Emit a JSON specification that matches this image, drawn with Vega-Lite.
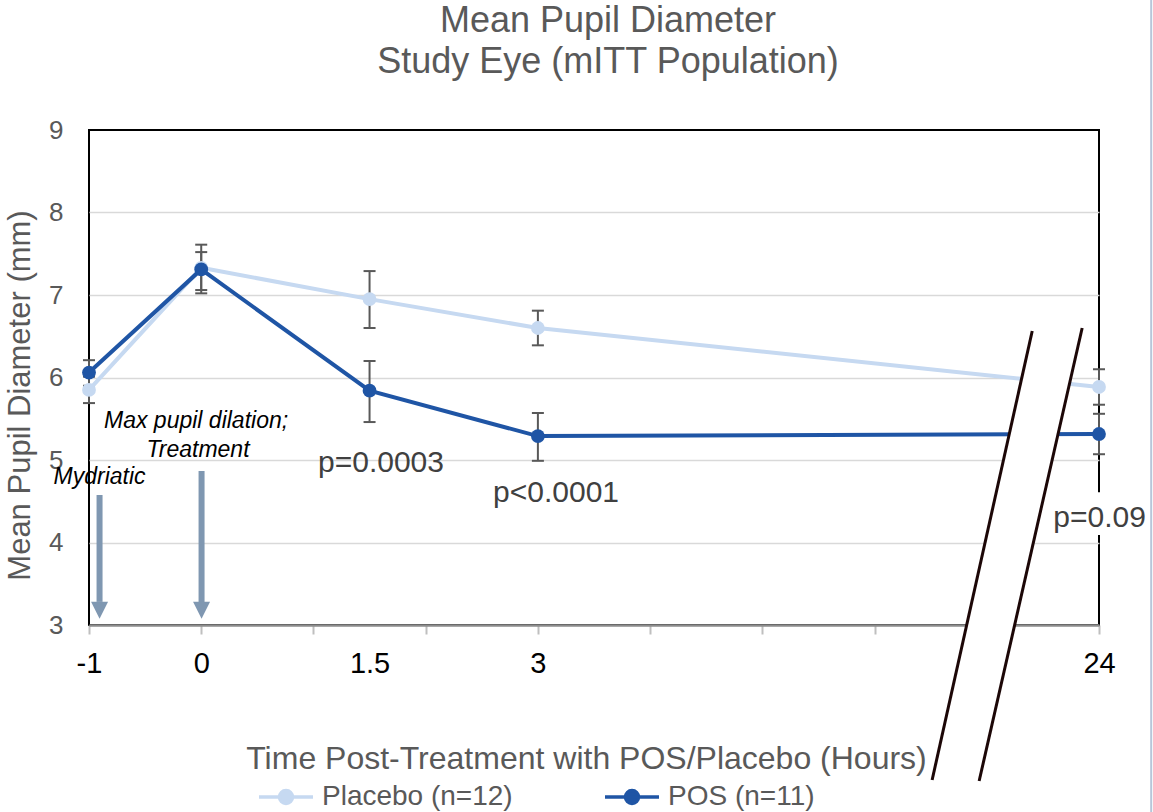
{
  "$schema": "https://vega.github.io/schema/vega-lite/v6.json",
  "width": 1010,
  "height": 495,
  "autosize": {"type": "none"},
  "padding": {"left": 89, "top": 130, "right": 54, "bottom": 187},
  "background": "white",
  "config": {
    "font": "Liberation Sans",
    "view": {"stroke": "black", "strokeWidth": 2}
  },
  "title": {
    "text": ["Mean Pupil Diameter", "Study Eye (mITT Population)"],
    "fontSize": 36,
    "fontWeight": "normal",
    "color": "#595959",
    "lineHeight": 41,
    "anchor": "middle",
    "frame": "group",
    "dx": 14,
    "offset": -82
  },
  "datasets": {
    "series": [
      {"series": "Placebo (n=12)", "x": 0, "mean": 5.85, "lo": 5.69, "hi": 6.01},
      {"series": "Placebo (n=12)", "x": 1, "mean": 7.33, "lo": 7.06, "hi": 7.61},
      {"series": "Placebo (n=12)", "x": 2.5, "mean": 6.95, "lo": 6.60, "hi": 7.29},
      {"series": "Placebo (n=12)", "x": 4, "mean": 6.60, "lo": 6.39, "hi": 6.81},
      {"series": "Placebo (n=12)", "x": 9, "mean": 5.885, "lo": 5.67, "hi": 6.10},
      {"series": "POS (n=11)", "x": 0, "mean": 6.06, "lo": 5.90, "hi": 6.21},
      {"series": "POS (n=11)", "x": 1, "mean": 7.31, "lo": 7.02, "hi": 7.52},
      {"series": "POS (n=11)", "x": 2.5, "mean": 5.84, "lo": 5.46, "hi": 6.20},
      {"series": "POS (n=11)", "x": 4, "mean": 5.29, "lo": 4.99, "hi": 5.57},
      {"series": "POS (n=11)", "x": 9, "mean": 5.315, "lo": 5.07, "hi": 5.56}
    ],
    "notesItalic": [
      {"label": "Mydriatic", "x": 0.094, "y": 4.709},
      {"label": "Max pupil dilation;", "x": 0.954, "y": 5.388},
      {"label": "Treatment", "x": 0.971, "y": 5.036}
    ],
    "notesP": [
      {"label": "p=0.0003", "x": 2.602, "y": 4.855},
      {"label": "p<0.0001", "x": 4.162, "y": 4.49},
      {"label": "p=0.09", "x": 9.005, "y": 4.19}
    ],
    "arrows": [
      {"x": 0.094, "top": 4.576, "shaft": 3.28, "head": 3.18},
      {"x": 1.003, "top": 4.867, "shaft": 3.28, "head": 3.18}
    ],
    "breakBand": [
      {"y": 6.56, "xl": 8.405, "xr": 8.843},
      {"y": 1.12, "xl": 7.513, "xr": 7.934}
    ],
    "breakLines": [
      {"x1": 8.405, "y1": 6.564, "x2": 7.513, "y2": 1.121},
      {"x1": 8.850, "y1": 6.60, "x2": 7.932, "y2": 1.109}
    ],
    "pBox": [
      {"x1": 8.54, "x2": 9.46, "y1": 4.61, "y2": 4.09}
    ],
    "edge": [
      {"x": 9.465, "y1": 10.58, "y2": 0.73}
    ]
  },
  "layer": [
    {
      "data": {"name": "arrows"},
      "mark": {"type": "rule", "color": "#7f97b1", "strokeWidth": 6},
      "encoding": {
        "x": {"field": "x", "type": "quantitative", "scale": {"domain": [0, 9], "nice": false, "zero": false}},
        "y": {"field": "top", "type": "quantitative", "scale": {"domain": [3, 9], "nice": false, "zero": false}},
        "y2": {"field": "shaft"}
      }
    },
    {
      "data": {"name": "arrows"},
      "mark": {"type": "point", "shape": "M-1,-1L1,-1L0,1Z", "filled": true, "size": 289, "color": "#7f97b1", "opacity": 1},
      "encoding": {
        "x": {"field": "x", "type": "quantitative", "scale": {"domain": [0, 9], "nice": false, "zero": false}},
        "y": {"field": "head", "type": "quantitative", "scale": {"domain": [3, 9], "nice": false, "zero": false}}
      }
    },
    {
      "data": {"name": "series"},
      "mark": {"type": "rule", "strokeWidth": 2, "color": "#595959"},
      "encoding": {
        "x": {"field": "x", "type": "quantitative", "scale": {"domain": [0, 9], "nice": false, "zero": false}},
        "y": {"field": "lo", "type": "quantitative", "scale": {"domain": [3, 9], "nice": false, "zero": false}},
        "y2": {"field": "hi"}
      }
    },
    {
      "data": {"name": "series"},
      "mark": {"type": "point", "shape": "M-1,0L1,0", "filled": false, "size": 144, "strokeWidth": 2, "color": "#595959", "opacity": 1},
      "encoding": {
        "x": {"field": "x", "type": "quantitative", "scale": {"domain": [0, 9], "nice": false, "zero": false}},
        "y": {"field": "lo", "type": "quantitative", "scale": {"domain": [3, 9], "nice": false, "zero": false}}
      }
    },
    {
      "data": {"name": "series"},
      "mark": {"type": "point", "shape": "M-1,0L1,0", "filled": false, "size": 144, "strokeWidth": 2, "color": "#595959", "opacity": 1},
      "encoding": {
        "x": {"field": "x", "type": "quantitative", "scale": {"domain": [0, 9], "nice": false, "zero": false}},
        "y": {"field": "hi", "type": "quantitative", "scale": {"domain": [3, 9], "nice": false, "zero": false}}
      }
    },
    {
      "data": {"name": "series"},
      "mark": {"type": "line", "strokeWidth": 4, "point": {"filled": true, "size": 190, "opacity": 1}},
      "encoding": {
        "x": {
          "field": "x", "type": "quantitative",
          "scale": {"domain": [0, 9], "nice": false, "zero": false},
          "axis": {
            "values": [0, 1, 2, 2.5, 3, 4, 5, 6, 7, 8, 9],
            "labelExpr": "datum.value == 0 ? '-1' : datum.value == 1 ? '0' : datum.value == 2.5 ? '1.5' : datum.value == 4 ? '3' : datum.value == 9 ? '24' : ''",
            "labelFontSize": 29,
            "labelColor": "black",
            "labelPadding": 15,
            "labelFlush": false,
            "labelOverlap": false,
            "tickColor": "#bfbfbf",
            "tickWidth": 2,
            "tickSize": 9,
            "tickOpacity": {"condition": {"test": "datum.value == 2.5", "value": 0}, "value": 1},
            "domainColor": "#8c8c8c",
            "domainWidth": 2.5,
            "grid": false,
            "title": "Time Post-Treatment with POS/Placebo (Hours)",
            "titleFontSize": 32,
            "titleFontWeight": "normal",
            "titleColor": "#595959",
            "titleX": 497,
            "titleY": 143,
            "titleBaseline": "alphabetic",
            "titleAlign": "center"
          }
        },
        "y": {
          "field": "mean", "type": "quantitative",
          "scale": {"domain": [3, 9], "nice": false, "zero": false},
          "axis": {
            "values": [3, 4, 5, 6, 7, 8, 9],
            "format": "d",
            "labelFontSize": 26,
            "labelColor": "#595959",
            "labelPadding": 26,
            "ticks": false,
            "tickSize": 0,
            "domain": false,
            "labelFlush": false,
            "grid": true,
            "gridColor": {"condition": {"test": "datum.value == 3 || datum.value == 9", "value": "transparent"}, "value": "#d9d9d9"},
            "gridWidth": 1.5,
            "title": "Mean Pupil Diameter (mm)",
            "titleFontSize": 31,
            "titleFontWeight": "normal",
            "titleColor": "#595959",
            "titleX": -53,
            "titleY": 265,
            "titleAlign": "center",
            "titleBaseline": "bottom"
          }
        },
        "color": {
          "field": "series", "type": "nominal",
          "scale": {"domain": ["Placebo (n=12)", "POS (n=11)"], "range": ["#c6d9f1", "#1f55a5"]},
          "legend": {
            "orient": "none",
            "legendX": 168,
            "legendY": 638,
            "direction": "horizontal",
            "title": null,
            "labelFontSize": 28,
            "labelColor": "#595959",
            "labelOffset": 7,
            "labelLimit": 500,
            "columnPadding": 85,
            "symbolType": "M-1,0L1,0M-0.24,0A0.24,0.24,0,1,1,0.24,0A0.24,0.24,0,1,1,-0.24,0Z",
            "symbolSize": 2916,
            "symbolStrokeWidth": 3.5,
            "encode": {
              "symbols": {
                "update": {
                  "fill": {"scale": "color", "field": "value"},
                  "stroke": {"scale": "color", "field": "value"},
                  "opacity": {"value": 1}
                }
              }
            }
          }
        }
      }
    },
    {
      "data": {"name": "notesItalic"},
      "mark": {"type": "text", "fontStyle": "italic", "fontSize": 23, "color": "black", "baseline": "alphabetic", "align": "center"},
      "encoding": {
        "x": {"field": "x", "type": "quantitative", "scale": {"domain": [0, 9], "nice": false, "zero": false}},
        "y": {"field": "y", "type": "quantitative", "scale": {"domain": [3, 9], "nice": false, "zero": false}},
        "text": {"field": "label"}
      }
    },
    {
      "data": {"name": "breakBand"},
      "mark": {"type": "area", "orient": "horizontal", "color": "white", "opacity": 1},
      "encoding": {
        "y": {"field": "y", "type": "quantitative", "scale": {"domain": [3, 9], "nice": false, "zero": false}},
        "x": {"field": "xl", "type": "quantitative", "scale": {"domain": [0, 9], "nice": false, "zero": false}},
        "x2": {"field": "xr"}
      }
    },
    {
      "data": {"name": "breakLines"},
      "mark": {"type": "rule", "color": "#1c0707", "strokeWidth": 3},
      "encoding": {
        "x": {"field": "x1", "type": "quantitative", "scale": {"domain": [0, 9], "nice": false, "zero": false}},
        "x2": {"field": "x2"},
        "y": {"field": "y1", "type": "quantitative", "scale": {"domain": [3, 9], "nice": false, "zero": false}},
        "y2": {"field": "y2"}
      }
    },
    {
      "data": {"name": "pBox"},
      "mark": {"type": "rect", "color": "white", "opacity": 1},
      "encoding": {
        "x": {"field": "x1", "type": "quantitative", "scale": {"domain": [0, 9], "nice": false, "zero": false}},
        "x2": {"field": "x2"},
        "y": {"field": "y1", "type": "quantitative", "scale": {"domain": [3, 9], "nice": false, "zero": false}},
        "y2": {"field": "y2"}
      }
    },
    {
      "data": {"name": "notesP"},
      "mark": {"type": "text", "fontSize": 30, "color": "#404040", "baseline": "alphabetic", "align": "center"},
      "encoding": {
        "x": {"field": "x", "type": "quantitative", "scale": {"domain": [0, 9], "nice": false, "zero": false}},
        "y": {"field": "y", "type": "quantitative", "scale": {"domain": [3, 9], "nice": false, "zero": false}},
        "text": {"field": "label"}
      }
    },
    {
      "data": {"name": "edge"},
      "mark": {"type": "rule", "color": "#b7c6d9", "strokeWidth": 2},
      "encoding": {
        "x": {"field": "x", "type": "quantitative", "scale": {"domain": [0, 9], "nice": false, "zero": false}},
        "y": {"field": "y1", "type": "quantitative", "scale": {"domain": [3, 9], "nice": false, "zero": false}},
        "y2": {"field": "y2"}
      }
    }
  ]
}
